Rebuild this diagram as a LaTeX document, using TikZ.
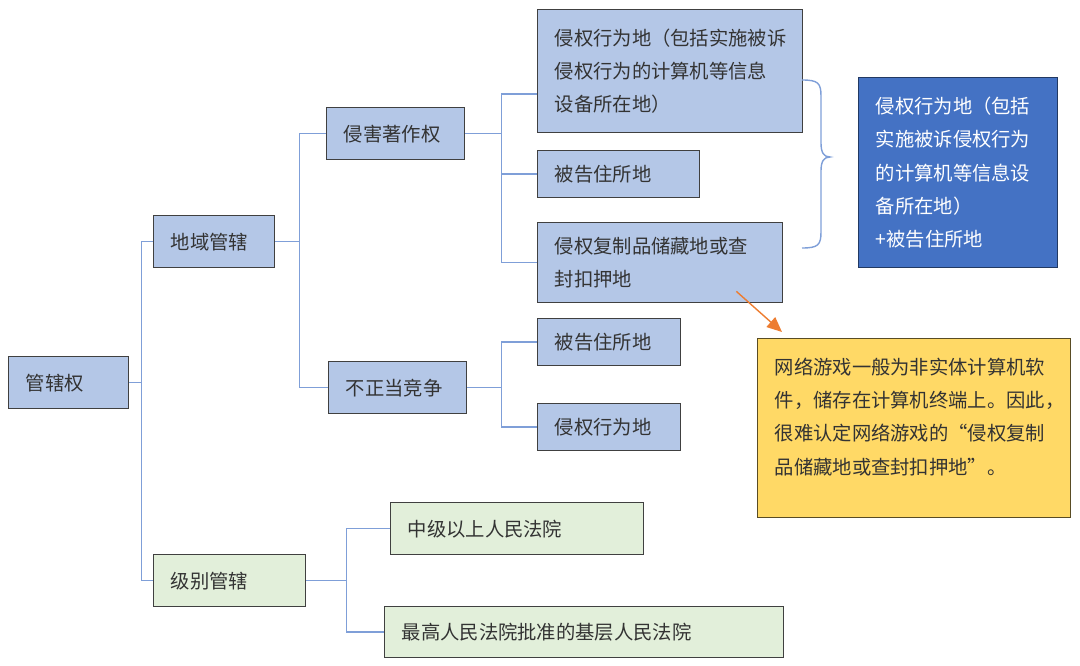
\documentclass[tikz,border=0pt]{standalone}
\usepackage{fontspec}
\setmainfont{Noto Sans CJK SC}
\usepackage{tikz}
\usepackage{xcolor}
\usetikzlibrary{positioning, arrows.meta}

\definecolor{boxblue}{HTML}{B4C7E7}
\definecolor{boxgreen}{HTML}{E2EFDA}
\definecolor{linkblue}{HTML}{7F9FD8}
\definecolor{noteblue}{HTML}{4472C4}
\definecolor{noteyellow}{HTML}{FFD966}
\definecolor{arroworange}{HTML}{ED7D31}

\begin{document}
\begin{tikzpicture}[
            x=0.02cm, y=-0.02cm,
            box/.style={draw=black!75, line width=0.8pt, anchor=north west, align=left,
                inner xsep=0.34cm, font=\fontsize{11pt}{19pt}\selectfont, text=black!80},
            bluebox/.style={box, fill=boxblue},
            greenbox/.style={box, fill=boxgreen},
            link/.style={draw=linkblue, line width=0.8pt},
        ]
            \useasboundingbox (0,0) rectangle (1080,666);

            \node[bluebox, text width=1.72cm, minimum height=1.04cm] (root) at (8,356) {管辖权};
            \node[bluebox, text width=1.74cm, minimum height=1.04cm] (dy) at (153,215) {地域管辖};
            \node[greenbox, text width=2.36cm, minimum height=1.04cm] (jb) at (153,554) {级别管辖};
            \node[bluebox, text width=2.08cm, minimum height=1.04cm] (qh) at (326,107) {侵害著作权};
            \node[bluebox, text width=2.08cm, minimum height=1.04cm] (bz) at (328,361) {不正当竞争};

            \node[bluebox, text width=4.62cm, minimum height=2.46cm] (xw1) at (537,9)
                {侵权行为地（包括实施被诉\\侵权行为的计算机等信息\\设备所在地）};
            \node[bluebox, text width=2.56cm, minimum height=0.94cm] (zs1) at (537,150) {被告住所地};
            \node[bluebox, text width=4.22cm, minimum height=1.6cm] (fz) at (537,222)
                {侵权复制品储藏地或查\\封扣押地};
            \node[bluebox, text width=2.18cm, minimum height=0.94cm] (zs2) at (537,318) {被告住所地};
            \node[bluebox, text width=2.18cm, minimum height=0.94cm] (xw2) at (537,403) {侵权行为地};

            \node[greenbox, text width=4.38cm, minimum height=1.04cm] (zj) at (390,502) {中级以上人民法院};
            \node[greenbox, text width=7.3cm, minimum height=1.02cm] (zg) at (384,606) {最高人民法院批准的基层人民法院};

            \node[box, draw=noteblue!50!black, fill=noteblue, text=white, text width=3.3cm, minimum height=3.8cm] (sum) at (858,77)
                {侵权行为地（包括\\实施被诉侵权行为\\的计算机等信息设\\备所在地）\\+被告住所地};
            \node[box, draw=noteyellow!35!black, fill=noteyellow, text width=5.58cm, minimum height=3.58cm] (note) at (757,338)
                {网络游戏一般为非实体计算机软\\件，储存在计算机终端上。因此，\\很难认定网络游戏的“侵权复制\\品储藏地或查封扣押地”。\\[-0.18cm]\mbox{}};

            \draw[link] (root.east) -- ++(12,0) |- (dy.west);
            \draw[link] (root.east) -- ++(12,0) |- (jb.west);
            \draw[link] (dy.east) -- ++(24,0) |- (qh.west);
            \draw[link] (dy.east) -- ++(24,0) |- (bz.west);
            \draw[link] (qh.east) -- ++(36,0) |- ([yshift=-0.46cm]xw1.west);
            \draw[link] (qh.east) -- ++(36,0) |- (zs1.west);
            \draw[link] (qh.east) -- ++(36,0) |- (fz.west);
            \draw[link] (bz.east) -- ++(34,0) |- (zs2.west);
            \draw[link] (bz.east) -- ++(34,0) |- (xw2.west);
            \draw[link] (jb.east) -- ++(40,0) |- (zj.west);
            \draw[link] (jb.east) -- ++(40,0) |- (zg.west);

            \draw[link] (802,80) .. controls (818,80) and (821,83) .. (821,96) -- (821,143)
                .. controls (821,153) and (824,157) .. (830,157)
                .. controls (824,157) and (821,161) .. (821,171) -- (821,232)
                .. controls (821,245) and (818,248) .. (802,248);

            \draw[arroworange, line width=0.8pt, -{Triangle[length=0.3cm, width=0.26cm]}]
                ([xshift=-0.94cm, yshift=0.24cm]fz.south east) -- ([xshift=0.5cm, yshift=0.12cm]note.north west);
        \end{tikzpicture}
\end{document}
